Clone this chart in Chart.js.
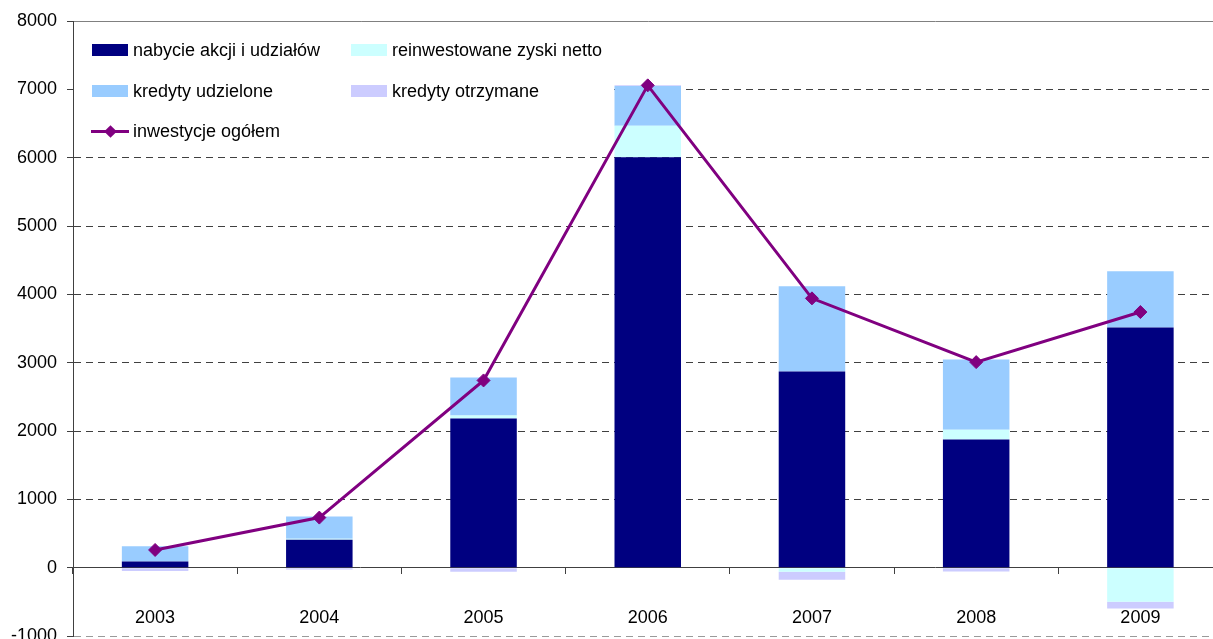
<!DOCTYPE html>
<html><head><meta charset="utf-8">
<script src="https://cdn.jsdelivr.net/npm/chart.js@4"></script>
<style>
html,body{margin:0;padding:0;background:#fff;overflow:hidden;width:1213px;height:639px}
#wrap{position:relative;width:1230px;height:660px}
#c{position:absolute;left:0;top:0}
.lg{position:absolute;font-family:"Liberation Sans",Arial,sans-serif;font-size:18px;color:#000;white-space:nowrap;height:22px;line-height:22px}
.sw{position:absolute;width:36px;height:12px}
</style>
</head><body>
<div id="wrap">
<canvas id="c" width="1230" height="660"></canvas>
<div class="sw" style="left:92px;top:44px;background:#000080"></div>
<div class="lg" style="left:133px;top:39px">nabycie akcji i udziałów</div>
<div class="sw" style="left:351px;top:44px;background:#CCFFFF"></div>
<div class="lg" style="left:392px;top:39px">reinwestowane zyski netto</div>
<div class="sw" style="left:92px;top:85px;background:#99CCFF"></div>
<div class="lg" style="left:133px;top:80px">kredyty udzielone</div>
<div class="sw" style="left:351px;top:85px;background:#CCCCFF"></div>
<div class="lg" style="left:392px;top:80px">kredyty otrzymane</div>
<div style="position:absolute;left:91px;top:129.5px;width:38px;height:3px;background:#800080"></div>
<div style="position:absolute;left:105.5px;top:126.5px;width:9px;height:9px;background:#800080;transform:rotate(45deg)"></div>
<div class="lg" style="left:133px;top:120px">inwestycje ogółem</div>
</div>
<script>
const years = ['2003','2004','2005','2006','2007','2008','2009'];
const nabycie = [90, 410, 2183, 6007, 2872, 1875, 3516];
const reinwestowane = [0, 15, 44, 459, -60, 142, -498];
const kredytyUdzielone = [222, 322, 557, 582, 1245, 1031, 821];
const kredytyOtrzymane = [-50, -25, -60, 10, -117, -55, -100];
const inwestycje = [259, 733, 2740, 7058, 3941, 3008, 3741];
const yTicks = [-1000, 0, 1000, 2000, 3000, 4000, 5000, 6000, 7000, 8000];

const FONT = {family: '"Liberation Sans", Arial, sans-serif', size: 18};

const legendBg = {
  id: 'legendBg',
  beforeDatasetsDraw(chart) {
    const ctx = chart.ctx;
    ctx.save();
    ctx.fillStyle = '#fff';
    ctx.fillRect(74, 28, 539, 122);
    ctx.restore();
  }
};

new Chart(document.getElementById('c'), {
  type: 'bar',
  data: {
    labels: years,
    datasets: [
      {type: 'line', label: 'inwestycje ogółem', data: inwestycje, borderColor: '#800080', backgroundColor: '#800080',
       borderWidth: 3, pointStyle: 'rectRot', pointRadius: 6.5, pointBorderWidth: 1, pointBackgroundColor: '#800080',
       pointBorderColor: '#800080', tension: 0, order: 0, stack: 'line'},
      {label: 'nabycie akcji i udziałów', data: nabycie, backgroundColor: '#000080', stack: 's', order: 1},
      {label: 'reinwestowane zyski netto', data: reinwestowane, backgroundColor: '#CCFFFF', stack: 's', order: 1},
      {label: 'kredyty udzielone', data: kredytyUdzielone, backgroundColor: '#99CCFF', stack: 's', order: 1},
      {label: 'kredyty otrzymane', data: kredytyOtrzymane, backgroundColor: '#CCCCFF', stack: 's', order: 1}
    ]
  },
  plugins: [legendBg],
  options: {
    responsive: false,
    animation: false,
    devicePixelRatio: 1,
    layout: {padding: {left: 0, right: 5, top: 21, bottom: 24}},
    plugins: {legend: {display: false}, tooltip: {enabled: false}},
    datasets: {bar: {categoryPercentage: 1, barPercentage: 0.405, borderWidth: 0}},
    scales: {
      x: {
        stacked: true,
        position: {y: 0},
        offset: true,
        grid: {display: true, drawOnChartArea: false, drawTicks: true, tickLength: 6, offset: true, color: '#404040'},
        border: {display: true, color: '#404040', width: 1},
        ticks: {font: FONT, color: '#000', padding: 34, maxRotation: 0}
      },
      y: {
        stacked: true,
        min: -1000, max: 8000,
        afterBuildTicks: (s) => { s.ticks = yTicks.map(v => ({value: v})); },
        afterFit: (s) => { s.width = 73; },
        grid: {
          color: (ctx) => ctx.tick && ctx.tick.value === 8000 ? '#808080' : (ctx.tick && ctx.tick.value === -1000 ? '#9a9a9a' : '#404040'),
          tickColor: '#404040', tickLength: 6, lineWidth: 1
        },
        border: {display: true, color: '#404040', width: 1,
          dash: (ctx) => ctx.tick && ctx.tick.value === 8000 ? [] : [7, 5]},
        ticks: {font: FONT, color: '#000', padding: 10, callback: (v) => String(v)}
      }
    }
  }
});
</script>
</body></html>
